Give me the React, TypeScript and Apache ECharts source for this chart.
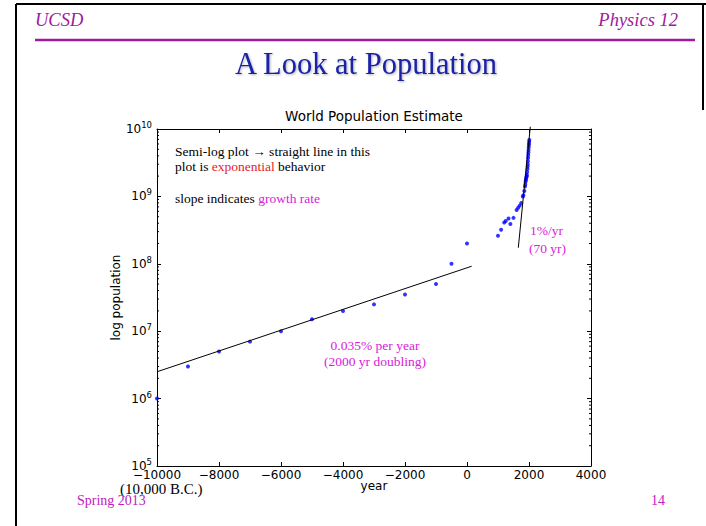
import React, { useEffect, useRef } from 'react';
import * as echarts from 'echarts';

// ---- Data ----
const ancientYears = [-10000, -9000, -8000, -7000, -6000, -5000, -4000, -3000, -2000, -1000, -500, 0];
const ancientPopulation = [1e6, 3e6, 5e6, 7e6, 1e7, 1.5e7, 2e7, 2.5e7, 3.5e7, 5e7, 1e8, 2e8];

const medievalYears = [1000, 1100, 1200, 1250, 1340, 1400, 1500, 1600];
const medievalPopulation = [2.6e8, 3.2e8, 4.1e8, 4.3e8, 4.7e8, 3.9e8, 4.8e8, 6.3e8];

const modernYears = [1650, 1700, 1750, 1800, 1820, 1850, 1870, 1880, 1890, 1900, 1910, 1920, 1927, 1930, 1940, 1950, 1955, 1960, 1965, 1970, 1975, 1980, 1985, 1990, 1995, 2000, 2005, 2010];
const modernPopulation = [6.8e8, 7.3e8, 8.0e8, 1.0e9, 1.04e9, 1.2e9, 1.4e9, 1.5e9, 1.65e9, 1.75e9, 1.85e9, 1.95e9, 2.0e9, 2.1e9, 2.3e9, 2.55e9, 2.77e9, 3.0e9, 3.33e9, 3.7e9, 4.07e9, 4.44e9, 4.85e9, 5.3e9, 5.72e9, 6.1e9, 6.5e9, 6.9e9];

const slowFitYears = [-10000, 150];
const slowFitPopulation = [2.5e6, 9.2e7];
const fastFitYears = [1655, 2042];
const fastFitPopulation = [1.73e8, 1.08e10];

const xTickValues = [-10000, -8000, -6000, -4000, -2000, 0, 2000, 4000];
const xTickLabels = ['\u221210000', '\u22128000', '\u22126000', '\u22124000', '\u22122000', '0', '2000', '4000'];
const yTickExponents = [5, 6, 7, 8, 9, 10];
const minorMultipliers = [2, 3, 4, 5, 6, 7, 8, 9];

const X_MIN = -10000;
const X_MAX = 4000;
const Y_MIN = 1e5;
const Y_MAX = 1e10;

const SERIF = '"Liberation Serif", "DejaVu Serif", serif';
const SANS = '"DejaVu Sans", sans-serif';
const PURPLE = '#9c1c9c';
const MAGENTA = '#d822d8';

export default function App() {
  const ref = useRef<HTMLDivElement>(null);

  useEffect(() => {
    if (!ref.current) return;
    const chart = echarts.init(ref.current, undefined, { renderer: 'svg' });

    const points: number[][] = [];
    ancientYears.forEach((y, i) => points.push([y, ancientPopulation[i]]));
    medievalYears.forEach((y, i) => points.push([y, medievalPopulation[i]]));
    modernYears.forEach((y, i) => points.push([y, modernPopulation[i]]));

    const minorValues: number[][] = [];
    yTickExponents.slice(0, -1).forEach((e) => {
      minorMultipliers.forEach((m) => minorValues.push([X_MIN, m * Math.pow(10, e)]));
    });

    const xFormatter = (v: number) => {
      const i = xTickValues.indexOf(v);
      return i >= 0 ? xTickLabels[i] : '';
    };
    const yFormatter = (v: number) => {
      const e = Math.round(Math.log10(v));
      return yTickExponents.includes(e) ? `{b|10}{s|${e}}` : '';
    };

    const tickStyle = { color: '#000', width: 1 };

    const txt = (x: number, y: number, text: string, font: Record<string, any>, align = 'left') => ({
      type: 'text',
      x,
      y,
      silent: true,
      style: {
        text,
        fill: font.fill || '#000',
        fontFamily: font.fontFamily || SERIF,
        fontSize: font.fontSize || 13.5,
        fontStyle: font.fontStyle || 'normal',
        align,
        textAlign: align,
        verticalAlign: 'middle',
        textVerticalAlign: 'middle',
        rich: font.rich,
        ...(font.extra || {}),
      },
    });

    const annRich = {
      k: { fill: '#000', color: '#000', fontFamily: SERIF, fontSize: 13.5 },
      r: { fill: '#e8211f', color: '#e8211f', fontFamily: SERIF, fontSize: 13.5 },
      m: { fill: MAGENTA, color: MAGENTA, fontFamily: SERIF, fontSize: 13.5 },
    };

    chart.setOption({
      animation: false,
      backgroundColor: '#fff',
      textStyle: { fontFamily: SANS },
      grid: { left: 157, right: 115, top: 129, bottom: 60, containLabel: false },
      xAxis: [
        {
          type: 'value',
          position: 'bottom',
          min: X_MIN,
          max: X_MAX,
          interval: 2000,
          axisLine: { show: true, onZero: false, lineStyle: tickStyle },
          axisTick: { show: true, inside: true, length: 4, lineStyle: tickStyle },
          axisLabel: { color: '#000', fontSize: 12, margin: 3, fontFamily: SANS, formatter: xFormatter },
          splitLine: { show: false },
          name: 'year',
          nameLocation: 'middle',
          nameGap: 14,
          nameMoveOverlap: false,
          nameTextStyle: { color: '#000', fontSize: 12, fontFamily: SANS },
        },
        {
          type: 'value',
          position: 'top',
          min: X_MIN,
          max: X_MAX,
          interval: 2000,
          axisLine: { show: true, onZero: false, lineStyle: tickStyle },
          axisTick: { show: true, inside: true, length: 4, lineStyle: tickStyle },
          axisLabel: { show: false },
          splitLine: { show: false },
        },
      ],
      yAxis: [
        {
          type: 'log',
          logBase: 10,
          position: 'left',
          min: Y_MIN,
          max: Y_MAX,
          splitNumber: 5,
          axisLine: { show: true, onZero: false, lineStyle: tickStyle },
          axisTick: { show: true, inside: true, length: 4, lineStyle: tickStyle },
          axisLabel: {
            color: '#000',
            margin: 5,
            formatter: yFormatter,
            rich: {
              b: { fontSize: 12, color: '#000', fontFamily: SANS },
              s: { fontSize: 8.5, color: '#000', fontFamily: SANS, padding: [0, 0, 8, 0] },
            },
          },
          splitLine: { show: false },
          minorTick: { show: false },
          name: 'log population',
          nameLocation: 'middle',
          nameRotate: 90,
          nameGap: 35,
          nameMoveOverlap: false,
          nameTextStyle: { color: '#000', fontSize: 12, fontFamily: SANS },
        },
        {
          type: 'log',
          logBase: 10,
          position: 'right',
          min: Y_MIN,
          max: Y_MAX,
          splitNumber: 5,
          axisLine: { show: true, onZero: false, lineStyle: tickStyle },
          axisTick: { show: true, inside: true, length: 4, lineStyle: tickStyle },
          axisLabel: { show: false },
          splitLine: { show: false },
        },
      ],
      series: [
        {
          type: 'custom',
          coordinateSystem: 'cartesian2d',
          xAxisIndex: 0,
          yAxisIndex: 0,
          silent: true,
          clip: false,
          data: minorValues,
          renderItem: (_params: any, api: any) => {
            const v = api.value(1);
            const l = api.coord([X_MIN, v]);
            const r = api.coord([X_MAX, v]);
            const st = { stroke: '#000', lineWidth: 1 };
            return {
              type: 'group',
              children: [
                { type: 'line', shape: { x1: l[0], y1: l[1], x2: l[0] + 2, y2: l[1] }, style: st },
                { type: 'line', shape: { x1: r[0] - 2, y1: r[1], x2: r[0], y2: r[1] }, style: st },
              ],
            };
          },
        },
        {
          type: 'line',
          data: slowFitYears.map((y, i) => [y, slowFitPopulation[i]]),
          symbol: 'none',
          lineStyle: { color: '#000', width: 1 },
          silent: true,
          clip: false,
        },
        {
          type: 'line',
          data: fastFitYears.map((y, i) => [y, fastFitPopulation[i]]),
          symbol: 'none',
          lineStyle: { color: '#000', width: 1 },
          silent: true,
          clip: false,
        },
        {
          type: 'scatter',
          data: points,
          symbol: 'circle',
          symbolSize: 4,
          itemStyle: { color: '#0000ff' },
          silent: true,
          clip: false,
        },
      ],
      graphic: [
        // slide frame
        { type: 'line', silent: true, shape: { x1: 16, y1: 4, x2: 706, y2: 4 }, style: { stroke: '#000', lineWidth: 2 } },
        { type: 'line', silent: true, shape: { x1: 16, y1: 4, x2: 16, y2: 526 }, style: { stroke: '#000', lineWidth: 2 } },
        { type: 'line', silent: true, shape: { x1: 703, y1: 4, x2: 703, y2: 110 }, style: { stroke: '#000', lineWidth: 2 } },
        // header
        txt(35, 20, 'UCSD', { fill: PURPLE, fontSize: 18.5, fontStyle: 'italic' }),
        txt(678, 20, 'Physics 12', { fill: PURPLE, fontSize: 18.5, fontStyle: 'italic' }, 'right'),
        { type: 'line', silent: true, shape: { x1: 35, y1: 40, x2: 695, y2: 40 }, style: { stroke: PURPLE, lineWidth: 2.5 } },
        txt(366, 64, 'A Look at Population', {
          fill: '#1a22a6',
          fontSize: 30.5,
          extra: { textShadowColor: 'rgba(0,0,0,0.3)', textShadowOffsetX: 1, textShadowOffsetY: 1, textShadowBlur: 2 },
        }, 'center'),
        // chart title
        txt(374, 116, 'World Population Estimate', { fontFamily: SANS, fontSize: 13.5 }, 'center'),
        // annotations
        txt(175, 151, '{k|Semi-log plot \u2192 straight line in this}', { rich: annRich }),
        txt(175, 166, '{k|plot is }{r|exponential}{k| behavior}', { rich: annRich }),
        txt(175, 198, '{k|slope indicates }{m|growth rate}', { rich: annRich }),
        txt(530, 230, '1%/yr', { fill: MAGENTA }),
        txt(529, 248, '(70 yr)', { fill: MAGENTA }),
        txt(375, 345, '0.035% per year', { fill: MAGENTA }, 'center'),
        txt(375, 361, '(2000 yr doubling)', { fill: MAGENTA }, 'center'),
        // footer
        txt(120, 489, '(10,000 B.C.)', { fontSize: 15 }),
        txt(77, 500, 'Spring 2013', { fill: '#c020c0', fontSize: 14 }),
        txt(651, 500, '14', { fill: '#c020c0', fontSize: 14 }),
      ],
    });

    return () => chart.dispose();
  }, []);

  return <div ref={ref} style={{ position: 'absolute', left: 0, top: 0, width: 706, height: 526 }} />;
}
